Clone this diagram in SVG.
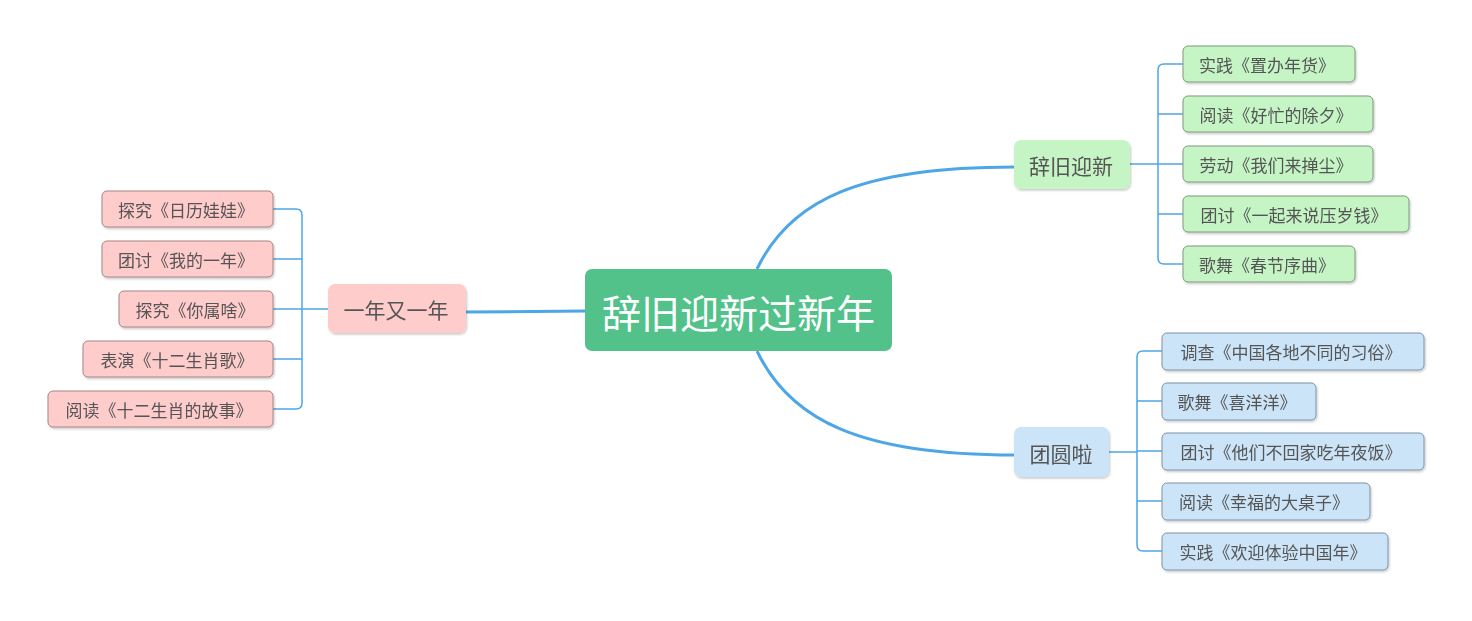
<svg xmlns="http://www.w3.org/2000/svg" width="1472" height="621" viewBox="0 0 1472 621">
<style>
text{font-family:"Noto Sans CJK SC","Noto Sans",sans-serif;fill:#555;dominant-baseline:central;text-anchor:middle}
.main{fill:#52c28a}
.mt{fill:#fff;font-size:39px}
.l1t{font-size:21px}
.ct{font-size:17px}
.g1{fill:#c5f5c5}
.p1{fill:#ffcccc}
.b1{fill:#cce4f8}
.g2{fill:#c5f5c5;stroke:#7f9a7f;stroke-width:1}
.p2{fill:#ffcccc;stroke:#a88484;stroke-width:1}
.b2{fill:#cce4f8;stroke:#7f93a8;stroke-width:1}
.thick{fill:none;stroke:#4ea6e6;stroke-width:3}
.thin{fill:none;stroke:#4ea6e6;stroke-width:1.5}
</style>
<defs>
<filter id="sh" x="-10%" y="-20%" width="130%" height="160%">
<feDropShadow dx="1" dy="1.5" stdDeviation="1.2" flood-color="#000" flood-opacity="0.22"/>
</filter>
</defs>
<g id="connectors">
<path class="thick" d="M757,269 C790,200 860,167 1014,167"/>
<path class="thick" d="M757,351 C790,420 860,455 1014,455"/>
<path class="thick" d="M466,312 L585,311"/>
<path class="thin" d="M1130,164 H1158 M1183,64 H1164 Q1158,64 1158,70 V258 Q1158,264 1164,264 H1183 M1158,114 H1183 M1158,164 H1183 M1158,214 H1183"/>
<path class="thin" d="M1109,452 H1137 M1162,351 H1143 Q1137,351 1137,357 V545 Q1137,551 1143,551 H1162 M1137,401 H1162 M1137,451 H1162 M1137,501 H1162"/>
<path class="thin" d="M328,309 H302 M273,209 H296 Q302,209 302,215 V403 Q302,409 296,409 H273 M302,259 H273 M302,309 H273 M302,359 H273"/>
</g>
<g id="root"><rect class="main" x="585" y="269" width="307" height="82" rx="7"/><text class="mt" x="738.5" y="311">辞旧迎新过新年</text></g>
<g id="n_cjyx" filter="url(#sh)"><rect class="g1" x="1014" y="140" width="116" height="49" rx="7"/><text class="l1t" x="1071" y="165">辞旧迎新</text></g>
<g id="n_tyl" filter="url(#sh)"><rect class="b1" x="1014" y="427" width="95" height="50" rx="7"/><text class="l1t" x="1061" y="453">团圆啦</text></g>
<g id="n_ynyyn" filter="url(#sh)"><rect class="p1" x="328" y="284" width="138" height="49" rx="7"/><text class="l1t" x="396" y="309">一年又一年</text></g>
<g id="g1" filter="url(#sh)"><rect class="g2" x="1183" y="46" width="172" height="36" rx="5"/><text class="ct" x="1267" y="64">实践《置办年货》</text></g>
<g id="g2" filter="url(#sh)"><rect class="g2" x="1183" y="96" width="190" height="36" rx="5"/><text class="ct" x="1276" y="114">阅读《好忙的除夕》</text></g>
<g id="g3" filter="url(#sh)"><rect class="g2" x="1183" y="146" width="190" height="36" rx="5"/><text class="ct" x="1276" y="164">劳动《我们来掸尘》</text></g>
<g id="g4" filter="url(#sh)"><rect class="g2" x="1183" y="196" width="226" height="36" rx="5"/><text class="ct" x="1294" y="214">团讨《一起来说压岁钱》</text></g>
<g id="g5" filter="url(#sh)"><rect class="g2" x="1183" y="246" width="172" height="36" rx="5"/><text class="ct" x="1267" y="264">歌舞《春节序曲》</text></g>
<g id="b1" filter="url(#sh)"><rect class="b2" x="1162" y="333" width="262" height="37" rx="5"/><text class="ct" x="1291" y="351.5">调查《中国各地不同的习俗》</text></g>
<g id="b2" filter="url(#sh)"><rect class="b2" x="1162" y="383" width="154" height="37" rx="5"/><text class="ct" x="1237" y="401.5">歌舞《喜洋洋》</text></g>
<g id="b3" filter="url(#sh)"><rect class="b2" x="1162" y="433" width="262" height="37" rx="5"/><text class="ct" x="1291" y="451.5">团讨《他们不回家吃年夜饭》</text></g>
<g id="b4" filter="url(#sh)"><rect class="b2" x="1162" y="483" width="208" height="37" rx="5"/><text class="ct" x="1264" y="501.5">阅读《幸福的大桌子》</text></g>
<g id="b5" filter="url(#sh)"><rect class="b2" x="1162" y="533" width="226" height="37" rx="5"/><text class="ct" x="1273" y="551.5">实践《欢迎体验中国年》</text></g>
<g id="p1" filter="url(#sh)"><rect class="p2" x="102" y="191" width="171" height="36" rx="5"/><text class="ct" x="186" y="209">探究《日历娃娃》</text></g>
<g id="p2" filter="url(#sh)"><rect class="p2" x="102" y="241" width="171" height="36" rx="5"/><text class="ct" x="186" y="259">团讨《我的一年》</text></g>
<g id="p3" filter="url(#sh)"><rect class="p2" x="119" y="291" width="154" height="36" rx="5"/><text class="ct" x="195" y="309">探究《你属啥》</text></g>
<g id="p4" filter="url(#sh)"><rect class="p2" x="83" y="341" width="190" height="36" rx="5"/><text class="ct" x="177" y="359">表演《十二生肖歌》</text></g>
<g id="p5" filter="url(#sh)"><rect class="p2" x="48" y="391" width="225" height="36" rx="5"/><text class="ct" x="159" y="409">阅读《十二生肖的故事》</text></g>
</svg>
